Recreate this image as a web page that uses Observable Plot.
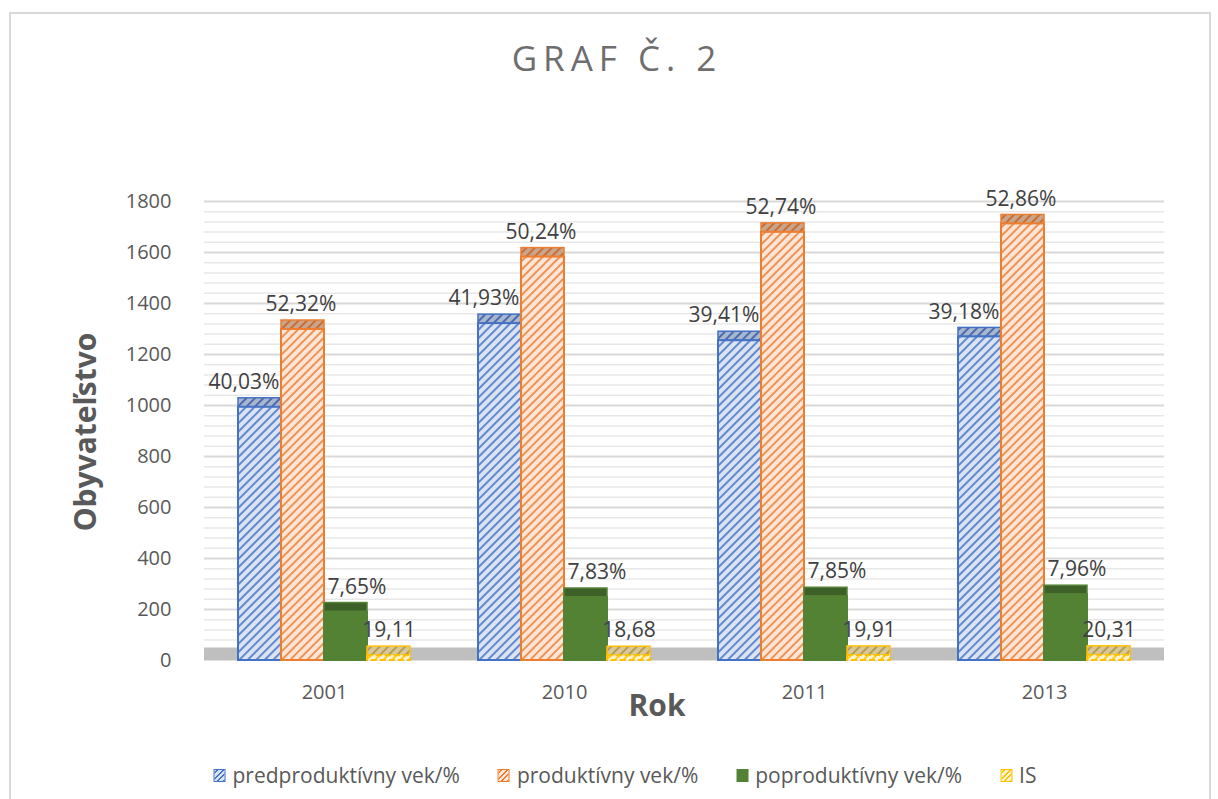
<!DOCTYPE html>
<html>
<head>
<meta charset="utf-8">
<script src="https://cdn.jsdelivr.net/npm/d3@7"></script>
<script src="https://cdn.jsdelivr.net/npm/@observablehq/plot@0.6"></script>
<style>
  body { margin: 0; background: #fff; font-family: "Open Sans", sans-serif; }
  #wrap { position: relative; width: 1218px; height: 799px; overflow: hidden; background: #fff; }
  #border { position: absolute; left: 9px; top: 12px; width: 1202px; height: 830px; border: 2px solid #d9d9d9; box-sizing: border-box; }
  #title { position: absolute; left: 617px; top: 56.5px; transform: translate(-50%, -50%); font-size: 35px; line-height: 35px; letter-spacing: 6px; color: #6e6e6e; white-space: nowrap; }
  #chart { position: absolute; left: 0; top: 150px; }
  .axtitle { position: absolute; font-weight: 700; font-size: 30px; line-height: 30px; color: #595959; white-space: nowrap; }
  #ytitle { left: 85px; top: 432px; transform: translate(-50%, -50%) rotate(-90deg); }
  #xtitle { left: 657px; top: 705px; transform: translate(-50%, -50%); }
  #legend { position: absolute; left: 625px; top: 765px; transform: translateX(-50%); display: flex; gap: 38px; font-size: 21px; line-height: 20px; color: #595959; white-space: nowrap; }
  .item { display: flex; align-items: center; }
  .sw { width: 12px; height: 13px; margin-right: 7px; box-sizing: border-box; }
</style>
</head>
<body>
<div id="wrap">
  <div id="border"></div>
  <div id="title">GRAF Č. 2</div>
  <div id="chart"></div>
  <div id="ytitle" class="axtitle">Obyvateľstvo</div>
  <div id="xtitle" class="axtitle">Rok</div>
  <div id="legend"></div>
</div>
<script>
// ---- data ----
const years = ["2001", "2010", "2011", "2013"];
const seriesNames = ["predproduktívny vek/%", "produktívny vek/%", "poproduktívny vek/%", "IS"];
const predproduktivny = [993, 1321, 1254, 1269];
const produktivny = [1298, 1582, 1679, 1712];
const poproduktivny = [190, 247, 250, 258];
const isValues = [19.11, 18.68, 19.91, 20.31];
const predLabels = ["40,03%", "41,93%", "39,41%", "39,18%"];
const prodLabels = ["52,32%", "50,24%", "52,74%", "52,86%"];
const poprodLabels = ["7,65%", "7,83%", "7,85%", "7,96%"];
const isLabels = ["19,11", "18,68", "19,91", "20,31"];
const yTicks = [0, 200, 400, 600, 800, 1000, 1200, 1400, 1600, 1800];
const yMinorTicks = d3.range(0, 1801, 40).filter(v => v % 200 !== 0);

// ---- styles ----
const seriesValues = [predproduktivny, produktivny, poproduktivny, isValues];
const seriesLabels = [predLabels, prodLabels, poprodLabels, isLabels];
const strokes = ["#4472C4", "#ED7D31", "#548235", "#FFC000"];
const fronts = ["url(#hatch-blue)", "url(#hatch-orange)", "#548235", "url(#hatch-is)"];
const tops = ["url(#hatch-blue-top)", "url(#hatch-orange-top)", "#3d5f28", "url(#hatch-is-top)"];
const labelDx = [-16, -2, 11, 0];

const rows = seriesNames.map((s, i) => years.map((y, j) => ({
  year: y, series: s, value: seriesValues[i][j], label: seriesLabels[i][j]
})));

const marks = [
  Plot.ruleY(yMinorTicks, {stroke: "#e8e8e8", strokeWidth: 1.5}),
  Plot.ruleY(yTicks.slice(1), {stroke: "#d9d9d9", strokeWidth: 2}),
  Plot.ruleY([0], {stroke: "#bfbfbf", strokeWidth: 13, dy: -6.5})
];
seriesNames.forEach((s, i) => {
  marks.push(Plot.barY(rows[i], {fx: "year", x: "series", y1: "value", y2: "value", insetTop: -9,
    fill: tops[i], stroke: strokes[i], strokeWidth: 1.5}));
  marks.push(Plot.barY(rows[i], {fx: "year", x: "series", y: "value",
    fill: fronts[i], stroke: strokes[i], strokeWidth: 2,
    strokeDasharray: i === 3 ? "6,3" : null}));
});
seriesNames.forEach((s, i) => {
  marks.push(Plot.text(rows[i], {fx: "year", x: "series", y: "value", text: "label",
    dy: -25, dx: labelDx[i], fontSize: 21, fill: "#404040", lineAnchor: "middle"}));
});

const chart = Plot.plot({
  width: 1218,
  height: 580,
  marginTop: 51,
  marginBottom: 70,
  marginLeft: 203,
  marginRight: 54,
  style: {fontFamily: "Open Sans, sans-serif", fontSize: "20px", color: "#595959", background: "transparent"},
  fx: {domain: years, padding: 0, axis: "bottom", label: null, tickSize: 0, tickPadding: 24},
  x: {domain: seriesNames, paddingInner: 0, paddingOuter: 0.786, axis: null},
  y: {domain: [0, 1800], ticks: yTicks, tickSize: 0, tickPadding: 33, label: null, tickFormat: d => String(d)},
  marks
});

const ns = "http://www.w3.org/2000/svg";
const defs = document.createElementNS(ns, "defs");
function hatch(id, bg, fg, w) {
  defs.innerHTML += `<pattern id="${id}" patternUnits="userSpaceOnUse" width="6" height="6" patternTransform="rotate(45)">
    <rect width="6" height="6" fill="${bg}"/><line x1="1" y1="0" x2="1" y2="6" stroke="${fg}" stroke-width="${w}"/></pattern>`;
}
hatch("hatch-blue", "#dae3f3", "#4472C4", 1.6);
hatch("hatch-orange", "#fde6d7", "#ED7D31", 1.6);
hatch("hatch-is", "#fff4cc", "#FFC000", 1.6);
hatch("hatch-blue-top", "#a9b6cf", "#3f64a8", 1.8);
hatch("hatch-orange-top", "#c9a58c", "#c8682a", 1.8);
hatch("hatch-is-top", "#d8c897", "#b09850", 1.8);
chart.insertBefore(defs, chart.firstChild);
document.getElementById("chart").appendChild(chart);

// legend
const swStyles = [
  "border:1.5px solid #4472C4;background:repeating-linear-gradient(-45deg,#4472C4 0 1.5px,#dae3f3 1.5px 4px)",
  "border:1.5px solid #ED7D31;background:repeating-linear-gradient(-45deg,#ED7D31 0 1.5px,#fde6d7 1.5px 4px)",
  "background:#548235",
  "border:1.5px solid #FFC000;background:repeating-linear-gradient(-45deg,#FFC000 0 1.5px,#fff4cc 1.5px 4px)"
];
const legend = document.getElementById("legend");
seriesNames.forEach((s, i) => {
  const it = document.createElement("div");
  it.className = "item";
  it.innerHTML = `<span class="sw" style="${swStyles[i]}"></span><span>${s}</span>`;
  legend.appendChild(it);
});
</script>
</body>
</html>
